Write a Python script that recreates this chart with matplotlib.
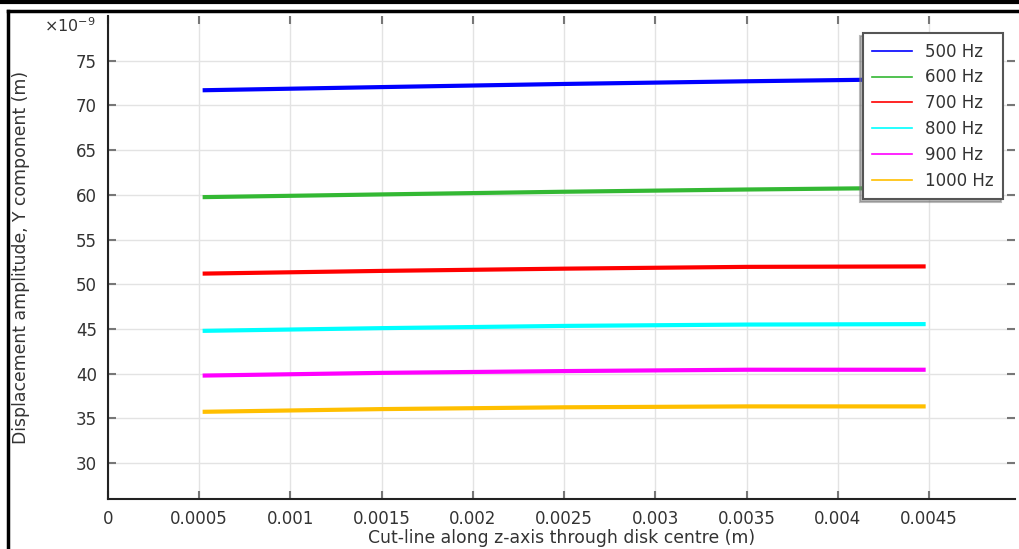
import numpy as np
import matplotlib.pyplot as plt
from matplotlib.lines import Line2D
from matplotlib.ticker import FuncFormatter

# cut-line position (m) and displacement amplitude (x1e-9 m)
z = [0.00053, 0.0015, 0.0025, 0.0035, 0.00447]
freqs = ["500 Hz", "600 Hz", "700 Hz", "800 Hz", "900 Hz", "1000 Hz"]
disp_500 = [71.7, 72.05, 72.4, 72.7, 72.95]
disp_600 = [59.75, 60.05, 60.35, 60.6, 60.8]
disp_700 = [51.2, 51.5, 51.75, 51.95, 52.0]
disp_800 = [44.8, 45.1, 45.35, 45.5, 45.55]
disp_900 = [39.8, 40.1, 40.3, 40.45, 40.45]
disp_1000 = [35.75, 36.05, 36.25, 36.35, 36.35]
series = [disp_500, disp_600, disp_700, disp_800, disp_900, disp_1000]
colors = ["#0000ff", "#33b833", "#ff0000", "#00ffff", "#ff00ff", "#ffbf00"]

plt.rcParams['font.family'] = 'DejaVu Sans'
fig = plt.figure(figsize=(10.2, 5.49), dpi=100)
ax = fig.add_axes([0.1059, 0.0911, 0.889, 0.8798])

for y, c, lab in zip(series, colors, freqs):
    ax.plot(z, y, color=c, linewidth=3, label=lab)

ax.set_xlim(0, 0.00497)
ax.set_ylim(26, 80)
ax.set_xticks(np.arange(0, 0.0046, 0.0005))
ax.set_yticks(np.arange(30, 76, 5))
ax.xaxis.set_major_formatter(FuncFormatter(lambda v, p: f"{v:g}"))
ax.grid(True, color="#e3e3e3", linewidth=1)
ax.set_axisbelow(True)

for s in ["top", "right"]:
    ax.spines[s].set_visible(False)
for s in ["left", "bottom"]:
    ax.spines[s].set_color("#222222")
    ax.spines[s].set_linewidth(1.5)

ax.tick_params(direction="in", length=6, width=1.5, color="#777777",
               labelsize=12, labelcolor="#333333", top=True, right=True, pad=8)

ax.set_xlabel("Cut-line along z-axis through disk centre (m)", fontsize=12.4,
              color="#333333", labelpad=1)
ax.set_ylabel("Displacement amplitude, Y component (m)", fontsize=12.4,
              color="#333333", labelpad=33)
fig.text(0.043, 0.953, r"$\times10^{-9}$", fontsize=11.5, color="#333333",
         ha="left", va="center")

leg = ax.legend(loc="upper right", bbox_to_anchor=(0.9965, 0.981), fontsize=12,
                frameon=True, fancybox=False,
                shadow={'ox': -2, 'oy': -2, 'color': '#777777'},
                handlelength=2.4, borderpad=0.55, labelspacing=0.47,
                handletextpad=0.8, framealpha=1)
leg.get_frame().set_edgecolor("#555555")
leg.get_frame().set_linewidth(1.5)
for h in leg.get_lines():
    h.set_linewidth(1.2)
for t in leg.get_texts():
    t.set_color("#333333")

# screenshot frame
fig.add_artist(Line2D([0, 1], [0.997, 0.997], transform=fig.transFigure,
                      color="black", linewidth=3))
fig.add_artist(Line2D([0.0075, 1], [0.98, 0.98], transform=fig.transFigure,
                      color="black", linewidth=2.5))
fig.add_artist(Line2D([0.0078, 0.0078], [0, 0.98], transform=fig.transFigure,
                      color="black", linewidth=2.5))

fig.savefig("out.png", dpi=100)
